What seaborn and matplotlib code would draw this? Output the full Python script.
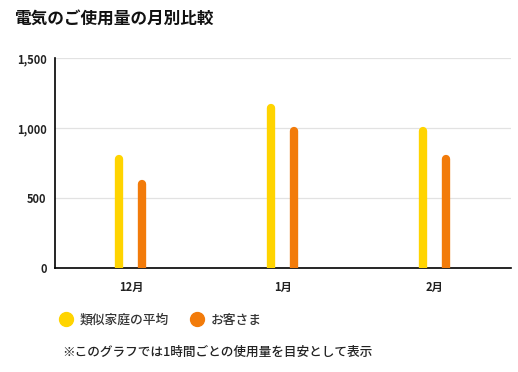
import pandas as pd
import numpy as np
import matplotlib.pyplot as plt
import seaborn as sns
from matplotlib.lines import Line2D

# data
months = ['12月', '1月', '2月']
series_names = ['類似家庭の平均', 'お客さま']
similar_avg = [800, 1170, 1000]
customer = [625, 1000, 800]
y_ticks = [0, 500, 1000, 1500]
y_tick_labels = ['0', '500', '1,000', '1,500']

colors = ['#FFD400', '#F27B0A']

df = pd.DataFrame({
    'month': months * 2,
    'series': [series_names[0]] * 3 + [series_names[1]] * 3,
    'value': similar_avg + customer,
})

sns.set_style('white')
plt.rcParams['font.family'] = ['Noto Sans CJK JP', 'DejaVu Sans']

fig = plt.figure(figsize=(5.18, 3.72), dpi=100)
ax = fig.add_axes([0.106, 0.2796, 0.88, 0.5645])

sns.barplot(data=df, x='month', y='value', hue='series', order=months,
            hue_order=series_names, palette=colors, width=0.303,
            saturation=1, legend=False, ax=ax)

# turn each bar into a thin pill with a round top (bottom cap is clipped by the axis)
for patch in ax.patches:
    cx = patch.get_x() + patch.get_width() / 2
    h = patch.get_height()
    ax.plot([cx, cx], [0, h - 25], color=patch.get_facecolor(), linewidth=6,
            solid_capstyle='round', zorder=3)
    patch.set_visible(False)

ax.set_ylim(0, 1500)
ax.set_yticks(y_ticks)
ax.set_yticklabels(y_tick_labels, fontsize=8, fontweight='bold', color='#222222')
ax.set_xlim(-0.5, 2.5)
ax.tick_params(axis='y', length=0, pad=6)
ax.tick_params(axis='x', length=0, pad=9)
for lbl in ax.get_xticklabels():
    lbl.set_fontsize(8)
    lbl.set_fontweight('bold')
    lbl.set_color('#222222')
ax.set_xlabel('')
ax.set_ylabel('')
ax.grid(axis='y', color='#e2e2e2', linewidth=0.9, zorder=0)
ax.set_axisbelow(True)

for side in ['top', 'right']:
    ax.spines[side].set_visible(False)
ax.spines['left'].set_color('black')
ax.spines['bottom'].set_color('black')
ax.spines['left'].set_linewidth(1.2)
ax.spines['bottom'].set_linewidth(1.2)

fig.text(14 / 518, 1 - 19 / 372, '電気のご使用量の月別比較', fontsize=12,
         fontweight='bold', va='center', ha='left', color='#111111')

handles = [Line2D([], [], marker='o', linestyle='', markersize=10,
                  markerfacecolor=c, markeredgecolor=c) for c in colors]
fig.legend(handles, series_names, loc='center left',
           bbox_to_anchor=(47 / 518, 1 - 320 / 372), ncol=2, frameon=False,
           handletextpad=0.45, columnspacing=1.6, handlelength=1.2,
           prop={'family': ['Noto Sans CJK JP', 'DejaVu Sans'], 'weight': 'medium', 'size': 9.2})
for t in fig.legends[0].get_texts():
    t.set_color('#333333')

fig.text(62 / 518, 1 - 352 / 372, '※このグラフでは1時間ごとの使用量を目安として表示',
         fontsize=9.1, fontweight='medium', va='center', ha='left', color='#222222')

fig.savefig('out.png', dpi=100)
